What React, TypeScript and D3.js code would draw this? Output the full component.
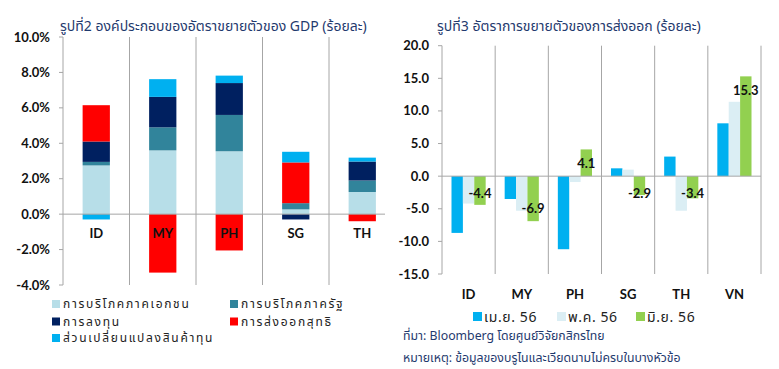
import React from "react";
import * as d3 from "d3";

const gdpCategories = ["ID", "MY", "PH", "SG", "TH"];
const gdpSeriesNames = [
  "การบริโภคภาคเอกชน",
  "การบริโภคภาครัฐ",
  "การลงทุน",
  "การส่งออกสุทธิ",
  "ส่วนเปลี่ยนแปลงสินค้าทุน",
];
const privateConsumption = [2.75, 3.6, 3.55, 0.27, 1.25];
const govConsumption = [0.2, 1.3, 2.05, 0.35, 0.65];
const investment = [1.15, 1.72, 1.8, -0.3, 1.07];
const netExports = [2.05, -3.3, -2.05, 2.3, -0.4];
const inventoryChange = [-0.3, 1.0, 0.42, 0.6, 0.22];
const gdpTicks = [-4, -2, 0, 2, 4, 6, 8, 10];

const exportCategories = ["ID", "MY", "PH", "SG", "TH", "VN"];
const exportSeriesNames = ["เม.ย. 56", "พ.ค. 56", "มิ.ย. 56"];
const aprExports = [-8.7, -3.5, -11.2, 1.2, 3.0, 8.1];
const mayExports = [-4.2, -5.3, -0.9, 1.0, -5.3, 11.4];
const junExports = [-4.4, -6.9, 4.1, -2.9, -3.4, 15.3];
const exportTicks = [-15, -10, -5, 0, 5, 10, 15, 20];

const gdpColors = ["#B7DEE8", "#31849B", "#002060", "#FF0000", "#00B0F0"];
const exportColors = ["#00B0F0", "#DBEEF4", "#92D050"];

const thaiFont = "Tahoma, 'Noto Sans Thai', 'Leelawadee UI', 'DejaVu Sans', sans-serif";
const numFont = "Lato, 'Open Sans', sans-serif";
const gridColor = "#A6A6A6";
const titleColor = "#1F3A6E";

function GdpChart() {
  const y = d3.scaleLinear().domain([-4, 10]).range([285, 37]);
  const x = d3.scaleBand().domain(gdpCategories).range([63, 395.5]).padding(0);
  const barW = x.bandwidth() * 0.41;
  const rows = gdpCategories.map((c, i) => ({
    cat: c,
    s0: privateConsumption[i],
    s1: govConsumption[i],
    s2: investment[i],
    s3: netExports[i],
    s4: inventoryChange[i],
  }));
  const keys = ["s0", "s1", "s2", "s3", "s4"];
  const stacked = d3.stack<any>().keys(keys).offset(d3.stackOffsetDiverging)(rows);
  const dividers = gdpCategories.map((c) => x(c)!);
  const legendPos = [
    [52, 304],
    [230, 304],
    [52, 321.5],
    [230, 321.5],
    [52, 338],
  ];
  return (
    <g>
      <text x={60} y={31} fontFamily={thaiFont} fontSize={14} fill={titleColor}>
        รูปที่2 องค์ประกอบของอัตราขยายตัวของ GDP (ร้อยละ)
      </text>
      {dividers.map((d, i) => (
        <line key={i} x1={d} x2={d} y1={y(10)} y2={y(-4)} stroke={gridColor} strokeWidth={1} />
      ))}
      {gdpTicks.map((t) => (
        <g key={t}>
          <line x1={59} x2={63} y1={y(t)} y2={y(t)} stroke={gridColor} />
          <text
            x={50}
            y={y(t)}
            dy="0.35em"
            textAnchor="end"
            fontFamily={numFont}
            fontWeight="bold"
            fontSize={13}
            fill="#111"
          >
            {t.toFixed(1) + "%"}
          </text>
        </g>
      ))}
      {stacked.map((s, si) =>
        s.map((d: any, i: number) => (
          <rect
            key={si + "-" + i}
            x={x(d.data.cat)! + (x.bandwidth() - barW) / 2}
            width={barW}
            y={y(Math.max(d[0], d[1]))}
            height={Math.abs(y(d[0]) - y(d[1]))}
            fill={gdpColors[si]}
          />
        ))
      )}
      <line x1={63} x2={385} y1={y(0)} y2={y(0)} stroke={gridColor} strokeWidth={1} />
      {gdpCategories.map((c) => (
        <text
          key={c}
          x={x(c)! + x.bandwidth() / 2}
          y={233}
          dy="0.35em"
          textAnchor="middle"
          fontFamily={numFont}
          fontWeight="bold"
          fontSize={13}
          fill="#111"
        >
          {c}
        </text>
      ))}
      {gdpSeriesNames.map((n, i) => (
        <g key={n}>
          <rect x={legendPos[i][0]} y={legendPos[i][1] - 4} width={8} height={8} fill={gdpColors[i]} />
          <text
            x={legendPos[i][0] + 11}
            y={legendPos[i][1]}
            dy="0.35em"
            fontFamily={thaiFont}
            fontSize={12}
            letterSpacing={1.7}
            fill="#222"
          >
            {n}
          </text>
        </g>
      ))}
    </g>
  );
}

function ExportChart() {
  const y = d3.scaleLinear().domain([-15, 20]).range([274, 45.7]);
  const x = d3.scaleBand().domain(exportCategories).range([442, 761]).padding(0);
  const inner = d3
    .scaleBand()
    .domain(exportSeriesNames)
    .range([9.5, x.bandwidth() - 9.5])
    .padding(0);
  const series = [aprExports, mayExports, junExports];
  const dividers = exportCategories.map((c) => x(c)!).concat([761]);
  const legendX = [473, 557, 636];
  return (
    <g>
      <text x={437} y={31} fontFamily={thaiFont} fontSize={14} fill={titleColor}>
        รูปที่3 อัตราการขยายตัวของการส่งออก (ร้อยละ)
      </text>
      {dividers.map((d, i) => (
        <line key={i} x1={d} x2={d} y1={y(20)} y2={y(-15)} stroke={gridColor} strokeWidth={1} />
      ))}
      {exportTicks.map((t) => (
        <g key={t}>
          <line x1={438} x2={442} y1={y(t)} y2={y(t)} stroke={gridColor} />
          <text
            x={429}
            y={y(t)}
            dy="0.35em"
            textAnchor="end"
            fontFamily={numFont}
            fontWeight="bold"
            fontSize={13}
            fill="#111"
          >
            {t.toFixed(1)}
          </text>
        </g>
      ))}
      {series.map((vals, si) =>
        vals.map((v, i) => (
          <rect
            key={si + "-" + i}
            x={x(exportCategories[i])! + inner(exportSeriesNames[si])!}
            width={inner.bandwidth()}
            y={y(Math.max(0, v))}
            height={Math.abs(y(v) - y(0))}
            fill={exportColors[si]}
          />
        ))
      )}
      <line x1={442} x2={761} y1={y(0)} y2={y(0)} stroke={gridColor} strokeWidth={1} />
      {junExports.map((v, i) => {
        const cx = x(exportCategories[i])! + inner(exportSeriesNames[2])! + inner.bandwidth() / 2;
        const ly = v >= 0 ? y(v) + 14 : Math.max(y(0) + 17, y(v) - 13);
        return (
          <text
            key={i}
            x={cx}
            y={ly}
            dy="0.35em"
            textAnchor="middle"
            fontFamily={numFont}
            fontWeight="bold"
            fontSize={13}
            fill="#111"
          >
            {v.toFixed(1)}
          </text>
        );
      })}
      {exportCategories.map((c) => (
        <text
          key={c}
          x={x(c)! + x.bandwidth() / 2}
          y={294}
          dy="0.35em"
          textAnchor="middle"
          fontFamily={numFont}
          fontWeight="bold"
          fontSize={13}
          fill="#111"
        >
          {c}
        </text>
      ))}
      {exportSeriesNames.map((n, i) => (
        <g key={n}>
          <rect x={legendX[i]} y={312} width={9} height={9} fill={exportColors[i]} />
          <text
            x={legendX[i] + 11}
            y={317}
            dy="0.35em"
            fontFamily={thaiFont}
            fontSize={14}
            letterSpacing={0.6}
            fill="#222"
          >
            {n}
          </text>
        </g>
      ))}
      <text x={403} y={336} dy="0.35em" fontFamily={thaiFont} fontSize={12.3} fill={titleColor}>
        ที่มา: Bloomberg โดยศูนย์วิจัยกสิกรไทย
      </text>
      <text x={403} y={358} dy="0.35em" fontFamily={thaiFont} fontSize={12.3} fill={titleColor}>
        หมายเหตุ: ข้อมูลของบรูไนและเวียดนามไม่ครบในบางหัวข้อ
      </text>
    </g>
  );
}

export default function App() {
  return (
    <svg
      width={779}
      height={369}
      style={{ position: "absolute", left: 0, top: 0, background: "#fff" }}
    >
      <rect x={0} y={0} width={779} height={369} fill="#fff" />
      <GdpChart />
      <ExportChart />
    </svg>
  );
}
